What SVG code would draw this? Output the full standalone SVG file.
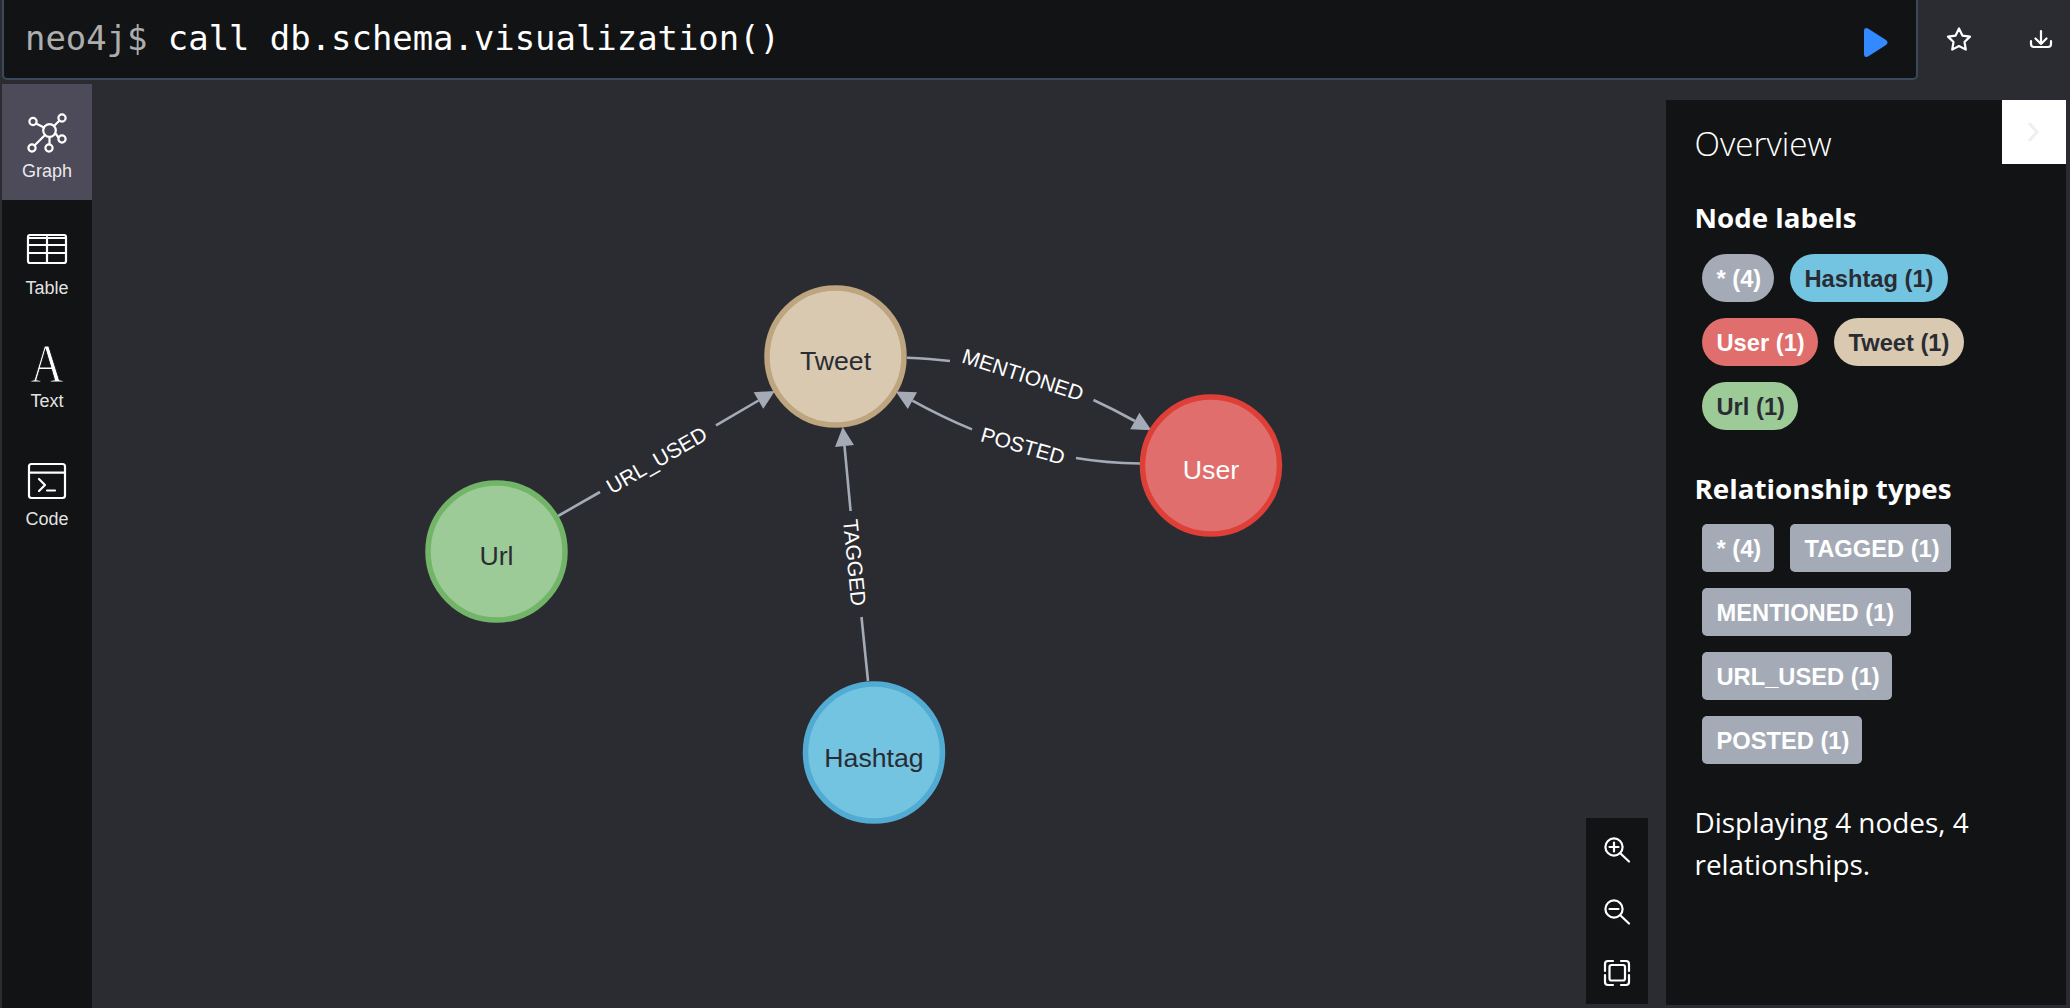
<svg xmlns="http://www.w3.org/2000/svg" width="2070" height="1008" viewBox="0 0 2070 1008">
<style>
.os{font-family:"Open Sans","Noto Sans",sans-serif;fill:#fff}
.nav{font-family:"Liberation Sans",Arial,sans-serif;font-size:18px;fill:#fff;text-anchor:middle;fill-opacity:.9}
.ic{fill:none;stroke:#fff;stroke-width:2.2;stroke-linecap:round;stroke-linejoin:round}
.pt{font-family:"Liberation Sans",Arial,sans-serif;font-size:23.7px;font-weight:700}
.lt{fill:#fff}.dk{fill:#2A2C34}
.nl{font-family:"Liberation Sans",Arial,sans-serif;font-size:26.7px;text-anchor:middle}
.rl{font-family:"Liberation Sans",Arial,sans-serif;font-size:21px;text-anchor:middle;fill:#fff}
.cn{fill:none;stroke:#A5ABB6;stroke-width:2.6}
.nd{stroke-width:5.5}
</style>
<defs>
<marker id="ah" markerUnits="userSpaceOnUse" markerWidth="24" markerHeight="24" refX="1" refY="12" orient="auto"><path d="M1,2.5 L20,12 L1,21.5 Z" fill="#A5ABB6"/></marker>
</defs>
<rect width="2070" height="1008" fill="#2B2C32"/>
<g id="query-bar">
<rect x="3" y="-6" width="1914" height="85" rx="4" fill="#121314" stroke="#3A4A5C" stroke-width="2"/>
<text x="25" y="50" font-family="'DejaVu Sans Mono','Liberation Mono',monospace" font-size="33.9" fill="#fff"><tspan fill-opacity=".68">neo4j$</tspan> call db.schema.visualization()</text>
<path d="M1868,28.5 L1886,40 Q1889,42.5 1886,45 L1868,56.5 Q1864,58 1864,54 L1864,31 Q1864,27 1868,28.5 Z" fill="#3389FF"/>
<path class="ic" d="M1959,28.5 L1962.4,35.6 L1970,36.6 L1964.5,42 L1965.8,49.6 L1959,46 L1952.2,49.6 L1953.5,42 L1948,36.6 L1955.6,35.6 Z"/>
<path class="ic" d="M2041,31 V44 M2035.5,38.5 L2041,44 L2046.5,38.5 M2031,41 V44 Q2031,47 2034,47 H2048 Q2051,47 2051,44 V41"/>
</g>
<g id="sidebar">
<rect x="2" y="200" width="90" height="808" fill="#121314"/>
<rect x="2" y="84" width="90" height="116" fill="#4D4B59"/>
<g class="ic" id="icon-graph">
<circle cx="49.5" cy="130.5" r="6.3"/>
<circle cx="33" cy="121.5" r="3.6"/><circle cx="62" cy="118" r="3.6"/><circle cx="62" cy="139" r="3.6"/><circle cx="49" cy="148" r="3.6"/><circle cx="32" cy="148" r="3.6"/>
<path d="M36,123.5 L44,127.5 M59.5,120.5 L54,126 M58.5,137.5 L55.5,133.5 M49.5,137 V144.5 M34.5,145.5 L45,135"/>
</g>
<text class="nav" x="47" y="177">Graph</text>
<g class="ic" id="icon-table">
<rect x="28" y="235" width="38" height="28" rx="2"/>
<path d="M28,238 H66 M28,245 H66 M28,253 H66 M47,237 V263"/>
</g>
<text class="nav" x="47" y="293.5">Table</text>
<text id="icon-text" transform="translate(47,382) scale(.86,1.02)" text-anchor="middle" font-family="'Liberation Serif',serif" font-size="53" fill="#fff" stroke="#121314" stroke-width="1">A</text>
<text class="nav" x="47" y="407">Text</text>
<g class="ic" id="icon-code">
<rect x="29" y="464" width="36" height="34" rx="2.5"/>
<path d="M29,472.7 H65 M39,479 L45,485 L39,491 M47,490.5 H55"/>
</g>
<text class="nav" x="47" y="525">Code</text>
</g>
<g id="connectors">
<path class="cn" d="M558,516 L600,492"/>
<path class="cn" d="M716,425.4 L758.5,400.5" marker-end="url(#ah)"/>
<path class="cn" d="M868,681 L861.5,617"/>
<path class="cn" d="M850.6,511 L844.5,446" marker-end="url(#ah)"/>
<path class="cn" d="M907,357.7 Q930,358.5 950,361"/>
<path class="cn" d="M1093.5,400 Q1115,410 1134.8,421" marker-end="url(#ah)"/>
<path class="cn" d="M1140.5,463.5 Q1105,463 1076,458"/>
<path class="cn" d="M972,429.4 Q942,417 912.4,400.6" marker-end="url(#ah)"/>
<text class="rl" transform="translate(656.6,460) rotate(-30)" y="7.5">URL_USED</text>
<text class="rl" transform="translate(854.7,562.6) rotate(84.3)" y="7.5">TAGGED</text>
<text class="rl" transform="translate(1023,374.7) rotate(18)" y="7.5">MENTIONED</text>
<text class="rl" transform="translate(1023,445.7) rotate(16)" y="7.5">POSTED</text>
</g>
<g id="node-tweet"><circle class="nd" cx="835.5" cy="356.5" r="68.5" fill="#D8C9B0" stroke="#BDA57F"/><text class="nl dk" x="835.5" y="370">Tweet</text></g>
<g id="node-url"><circle class="nd" cx="496.5" cy="551.5" r="68.5" fill="#9DCB97" stroke="#72B568"/><text class="nl dk" x="496.5" y="565">Url</text></g>
<g id="node-user"><circle class="nd" cx="1211" cy="465.5" r="68.5" fill="#E06E6C" stroke="#DE3F37"/><text class="nl lt" x="1211" y="479">User</text></g>
<g id="node-hashtag"><circle class="nd" cx="874" cy="752.5" r="68.5" fill="#72C4E0" stroke="#52ABD3"/><text class="nl dk" x="874" y="766.5">Hashtag</text></g>
<g id="zoom-controls">
<rect x="1586" y="818" width="62" height="186" fill="#121314"/>
<g class="ic">
<circle cx="1614" cy="847" r="8.6"/><path d="M1620.5,853.5 L1629,861.5 M1609.5,847 H1618.5 M1614,842.5 V851.5"/>
<circle cx="1614" cy="909" r="8.6"/><path d="M1620.5,915.5 L1629,923.5 M1609.5,909 H1618.5"/>
<rect x="1609.5" y="965" width="15.5" height="15.5" rx="2"/>
<path d="M1605,971 V964 Q1605,961 1608,961 H1613 M1621,961 H1626 Q1629,961 1629,964 V971 M1629,975 V982 Q1629,985 1626,985 H1621 M1613,985 H1608 Q1605,985 1605,982 V975"/>
</g>
</g>
<g id="overview">
<rect x="1666" y="100" width="400" height="905" fill="#121314"/>
<rect x="2002" y="100" width="64" height="64" fill="#fff"/>
<path d="M2029,123 L2037,132 L2029,141" fill="none" stroke="#EFEFEF" stroke-width="3"/>
<text class="os" x="1694.5" y="156" font-size="33.3" font-weight="300">Overview</text>
<text class="os" x="1694.5" y="228" font-size="27" font-weight="700" textLength="162" lengthAdjust="spacingAndGlyphs">Node labels</text>
<g id="pill-all"><rect x="1702" y="254" width="72" height="48" rx="24" fill="#A5ABB6"/><text class="pt lt" x="1716.5" y="287">* (4)</text></g>
<g id="pill-hashtag"><rect x="1790" y="254" width="158" height="48" rx="24" fill="#72C4E0"/><text class="pt dk" x="1804.5" y="287">Hashtag (1)</text></g>
<g id="pill-user"><rect x="1702" y="318" width="116" height="48" rx="24" fill="#E06E6C"/><text class="pt lt" x="1716.5" y="351">User (1)</text></g>
<g id="pill-tweet"><rect x="1834" y="318" width="130" height="48" rx="24" fill="#D8C9B0"/><text class="pt dk" x="1848.5" y="351">Tweet (1)</text></g>
<g id="pill-url"><rect x="1702" y="382" width="96" height="48" rx="24" fill="#9DCB97"/><text class="pt dk" x="1716.5" y="415">Url (1)</text></g>
<text class="os" x="1694.5" y="499" font-size="27.5" font-weight="700" textLength="257" lengthAdjust="spacingAndGlyphs">Relationship types</text>
<g id="rel-all"><rect x="1702" y="524" width="72" height="48" rx="5" fill="#A5ABB6"/><text class="pt lt" x="1716.5" y="557">* (4)</text></g>
<g id="rel-tagged"><rect x="1790" y="524" width="161" height="48" rx="5" fill="#A5ABB6"/><text class="pt lt" x="1804.5" y="557">TAGGED (1)</text></g>
<g id="rel-mentioned"><rect x="1702" y="588" width="209" height="48" rx="5" fill="#A5ABB6"/><text class="pt lt" x="1716.5" y="621">MENTIONED (1)</text></g>
<g id="rel-url"><rect x="1702" y="652" width="190" height="48" rx="5" fill="#A5ABB6"/><text class="pt lt" x="1716.5" y="685">URL_USED (1)</text></g>
<g id="rel-posted"><rect x="1702" y="716" width="160" height="48" rx="5" fill="#A5ABB6"/><text class="pt lt" x="1716.5" y="749">POSTED (1)</text></g>
<text class="os" x="1694.5" y="832.5" font-size="27.9">Displaying 4 nodes, 4</text>
<text class="os" x="1694.5" y="874.5" font-size="27.9">relationships.</text>
</g>
</svg>
